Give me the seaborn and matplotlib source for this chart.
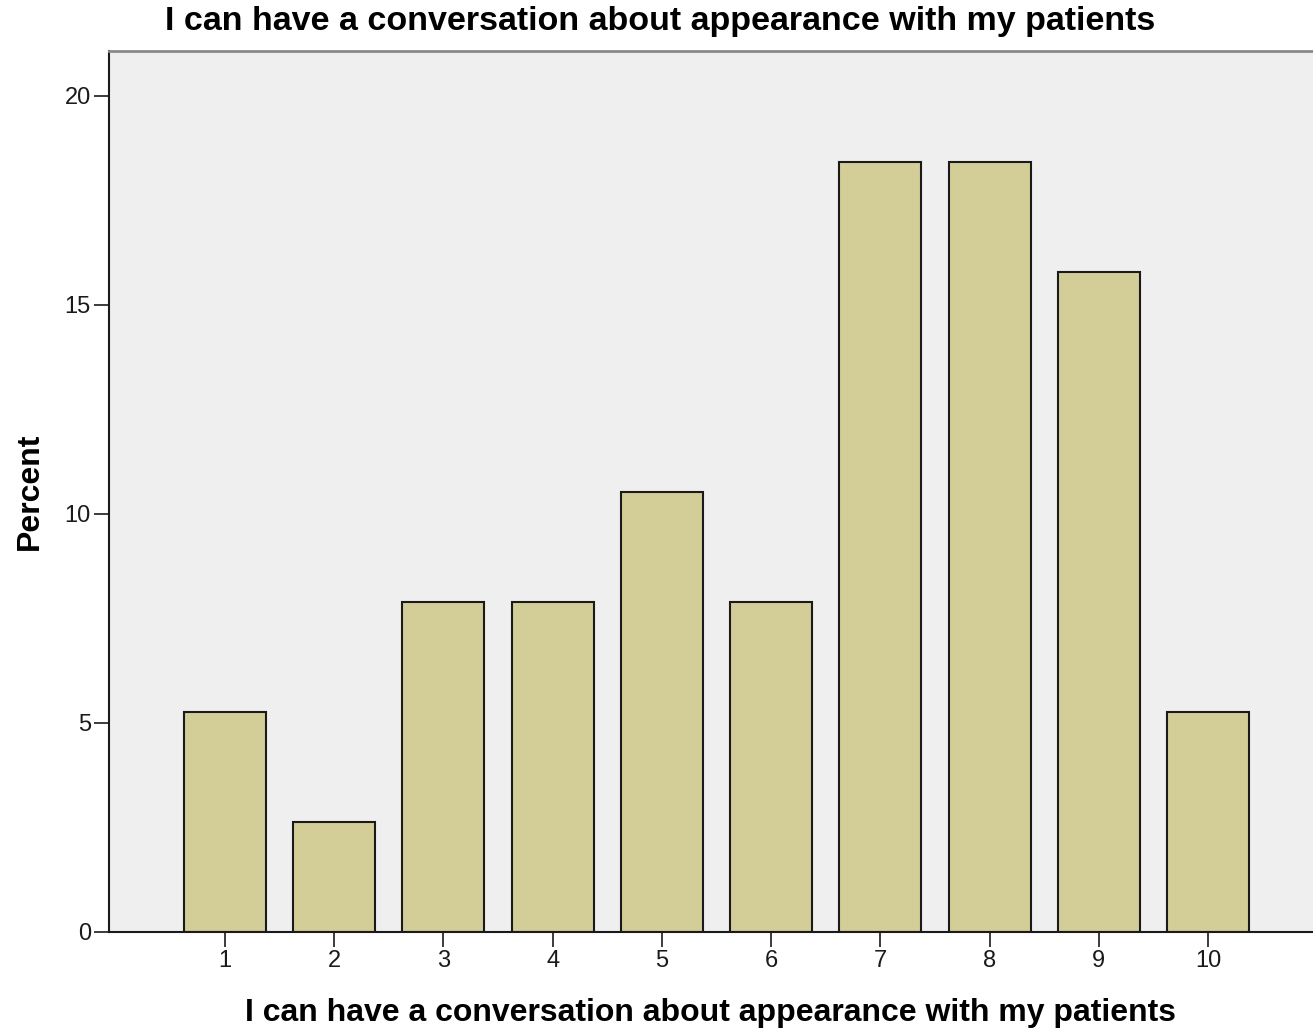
import pandas as pd
import seaborn as sns
import matplotlib.pyplot as plt

# response scale 1-10 and percent of respondents (n=38)
scores = ['1', '2', '3', '4', '5', '6', '7', '8', '9', '10']
percent = [5.26, 2.63, 7.89, 7.89, 10.53, 7.89, 18.42, 18.42, 15.79, 5.26]
title = 'I can have a conversation about appearance with my patients'

df = pd.DataFrame({'score': scores, 'percent': percent})

sns.set_style('white')
plt.rcParams['font.family'] = ['Liberation Sans', 'DejaVu Sans']
plt.rcParams['text.color'] = 'black'
plt.rcParams['axes.labelcolor'] = 'black'

fig = plt.figure(figsize=(13.13, 10.32), dpi=100)
ax = fig.add_axes([0.083, 0.097, 0.917, 0.854])
ax.set_facecolor('#efefef')

sns.barplot(data=df, x='score', y='percent', color='#d3ce97', saturation=1,
            width=0.75, edgecolor='#1a1a1a', linewidth=1.5, ax=ax)

ax.set_xlim(-1.06, 9.96)
ax.set_ylim(0, 21.08)
ax.set_yticks([0, 5, 10, 15, 20])

ax.spines['right'].set_visible(False)
for side in ['left', 'bottom']:
    ax.spines[side].set_color('#1a1a1a')
    ax.spines[side].set_linewidth(1.5)
ax.spines['top'].set_color('#8a8a8a')
ax.spines['top'].set_linewidth(2)

ax.tick_params(axis='both', direction='out', length=11, width=1.2,
               color='#1a1a1a', labelsize=17, labelcolor='#1a1a1a', pad=2,
               left=True, bottom=True)

ax.set_xlabel(title, fontsize=23, fontweight='bold', va='center')
ax.xaxis.set_label_coords(0.5, -0.092)
ax.set_ylabel('Percent', fontsize=23, fontweight='bold', va='center')
ax.yaxis.set_label_coords(-0.0656, 0.5)
fig.text(0.503, 0.979, title, ha='center', va='center',
         fontsize=24.5, fontweight='bold')

fig.savefig('out.png', dpi=100)
